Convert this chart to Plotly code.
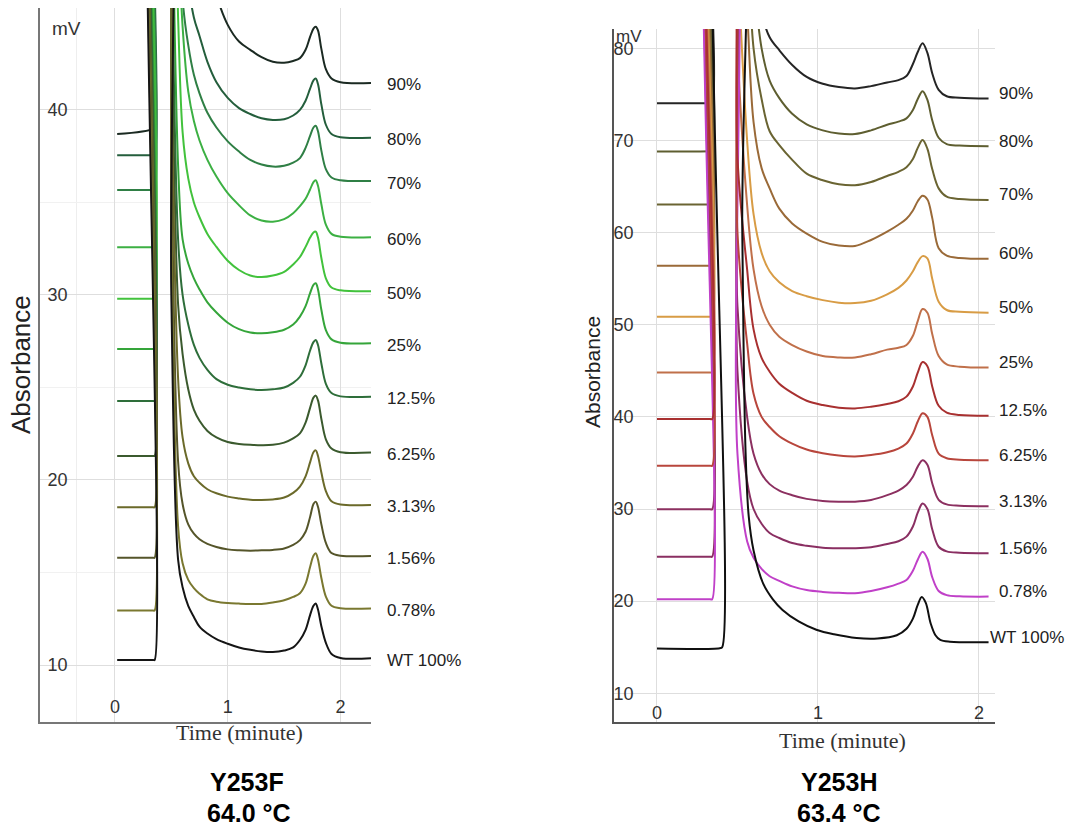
import plotly.graph_objects as go

W, H = 1074, 826

# ---------------- Y253F (left panel) ----------------
left_labels = ["90%", "80%", "70%", "60%", "50%", "25%", "12.5%",
               "6.25%", "3.13%", "1.56%", "0.78%", "WT 100%"]
left_colors = ["#1b2a22", "#245e3c", "#2f7f45", "#3cb043", "#42c23c", "#35a53a",
               "#2e6e3a", "#3b5a2e", "#6b6a2a", "#55552a", "#7a7830", "#151515"]

time_f = [0.02, 0.34, 0.352, 0.362, 0.44, 0.50, 0.56, 0.60, 0.65, 0.70, 0.75,
          0.82, 0.90, 1.00, 1.10, 1.20, 1.30, 1.40, 1.50, 1.58, 1.64, 1.69,
          1.73, 1.76, 1.78, 1.80, 1.83, 1.87, 1.92, 2.00, 2.27]

f_90 = [38.7, 39.0, 39.2, 80, 80, 70, 65, 60, 56, 53, 50.5, 48.2, 46.2, 44.6, 43.7,
        43.25, 42.85, 42.6, 42.55, 42.65, 42.8, 43.25, 43.95, 44.4, 44.5, 44.3,
        43.3, 42.2, 41.7, 41.5, 41.46]
f_80 = [37.55, 37.55, 37.55, 80, 80, 70, 62, 54, 47, 45.0, 44.0, 42.6, 41.5, 40.65,
        40.1, 39.78, 39.55, 39.46, 39.5, 39.7, 40.0, 40.5, 41.15, 41.6, 41.7, 41.4,
        40.3, 39.2, 38.7, 38.52, 38.5]
f_70 = [35.68, 35.68, 35.68, 80, 80, 66, 55, 46.0, 43.5, 41.9, 40.9, 39.85, 39.05,
        38.3, 37.75, 37.3, 37.05, 36.94, 36.98, 37.15, 37.4, 37.95, 38.6, 39.05,
        39.15, 38.85, 37.8, 36.8, 36.35, 36.2, 36.16]
f_60 = [32.58, 32.58, 32.58, 80, 80, 62, 50, 44.5, 41.0, 39.4, 38.35, 37.3, 36.4,
        35.5, 34.85, 34.3, 34.02, 33.96, 34.1, 34.42, 34.8, 35.2, 35.7, 36.1, 36.2,
        35.9, 34.9, 33.8, 33.3, 33.15, 33.12]
f_50 = [29.8, 29.8, 29.8, 80, 80, 58, 45, 38.8, 36.3, 35.0, 34.2, 33.3, 32.6, 31.85,
        31.35, 31.05, 30.97, 31.05, 31.25, 31.65, 32.05, 32.6, 33.1, 33.38, 33.42,
        33.1, 32.0, 30.9, 30.4, 30.25, 30.2]
f_25 = [27.08, 27.08, 27.08, 80, 80, 55, 37, 33.0, 31.7, 30.9, 30.3, 29.6, 29.05,
        28.5, 28.15, 27.97, 27.93, 27.98, 28.12, 28.4, 28.83, 29.4, 30.1, 30.55,
        30.63, 30.3, 29.2, 28.1, 27.6, 27.42, 27.39]
f_12 = [24.27, 24.27, 24.27, 80, 80, 50, 33, 30.0, 28.4, 27.3, 26.6, 25.95, 25.45,
        25.15, 25.0, 24.9, 24.86, 24.9, 25.0, 25.25, 25.58, 26.2, 27.0, 27.45,
        27.57, 27.3, 26.3, 25.2, 24.7, 24.52, 24.5]
f_6 = [21.3, 21.3, 21.3, 80, 80, 46, 29.5, 26.8, 24.9, 23.8, 23.2, 22.65, 22.3, 22.05,
       21.95, 21.9, 21.88, 21.9, 22.02, 22.25, 22.52, 23.1, 23.9, 24.45, 24.56,
       24.3, 23.3, 22.2, 21.7, 21.5, 21.48]
f_3 = [18.52, 18.52, 18.52, 80, 80, 42, 25.5, 22.3, 20.9, 20.2, 19.85, 19.5, 19.28,
       19.1, 19.0, 18.93, 18.92, 18.95, 19.05, 19.3, 19.64, 20.2, 20.95, 21.5,
       21.6, 21.3, 20.4, 19.4, 18.85, 18.67, 18.65]
f_1 = [15.8, 15.8, 15.8, 80, 80, 38, 21, 18.7, 17.6, 17.1, 16.8, 16.55, 16.38,
       16.25, 16.2, 16.18, 16.2, 16.22, 16.3, 16.49, 16.75, 17.2, 18.0, 18.7,
       18.83, 18.55, 17.6, 16.6, 16.05, 15.91, 15.89]
f_07 = [12.94, 12.94, 12.94, 80, 80, 34, 17.5, 15.5, 14.6, 14.15, 13.85, 13.55,
        13.42, 13.35, 13.32, 13.3, 13.3, 13.38, 13.5, 13.68, 13.88, 14.4, 15.3,
        15.9, 16.04, 15.7, 14.7, 13.7, 13.2, 13.07, 13.06]
f_wt = [10.27, 10.27, 10.27, 80, 80, 30, 15.7, 14.2, 13.2, 12.6, 12.07, 11.7, 11.4,
        11.15, 10.95, 10.82, 10.73, 10.7, 10.78, 10.95, 11.35, 11.9, 12.7, 13.2,
        13.33, 13.0, 12.1, 11.2, 10.6, 10.38, 10.36]

left_series = [f_90, f_80, f_70, f_60, f_50, f_25, f_12, f_6, f_3, f_1, f_07, f_wt]

# ---------------- Y253H (right panel) ----------------
right_labels = ["90%", "80%", "70%", "60%", "50%", "25%", "12.5%",
                "6.25%", "3.13%", "1.56%", "0.78%", "WT 100%"]
right_colors = ["#252525", "#5e5e30", "#6a6432", "#9a6a38", "#d89c45", "#c0704a",
                "#a83030", "#b8463c", "#8c3060", "#8a2f62", "#c040c8", "#101010"]

time_h = [0.0, 0.33, 0.343, 0.353, 0.43, 0.50, 0.56, 0.60, 0.65, 0.70, 0.76, 0.84,
          0.93, 1.03, 1.13, 1.23, 1.33, 1.43, 1.50, 1.55, 1.59, 1.62, 1.65, 1.68,
          1.71, 1.75, 1.80, 1.88, 2.06]
time_h_wt = [0.0, 0.39, 0.405, 0.415, 0.50, 0.53, 0.55, 0.57, 0.60, 0.66, 0.72,
             0.78, 0.88, 0.99, 1.10, 1.24, 1.37, 1.49, 1.55, 1.59, 1.62, 1.645,
             1.67, 1.70, 1.73, 1.76, 1.82, 2.06]

h_90 = [74.05, 74.07, 74.1, 120, 120, 115, 110, 95, 84, 81.2, 79.8, 78.2, 76.9,
        76.15, 75.8, 75.65, 75.9, 76.3, 76.55, 77.0, 78.3, 79.6, 80.55, 79.5, 77.3,
        75.5, 74.8, 74.65, 74.55]
h_80 = [68.8, 68.83, 68.85, 120, 120, 110, 100, 88, 80, 76.5, 74.6, 72.9, 71.75,
        71.1, 70.75, 70.7, 71.1, 71.7, 72.05, 72.4, 73.3, 74.5, 75.35, 74.4, 72.2,
        70.3, 69.6, 69.45, 69.37]
h_70 = [63.05, 63.05, 63.05, 120, 120, 105, 92, 80, 74.5, 71.0, 69.5, 67.9, 66.4,
        65.68, 65.25, 65.15, 65.5, 66.15, 66.6, 67.1, 68.0, 69.2, 70.05, 69.1, 66.9,
        64.8, 63.9, 63.65, 63.55]
h_60 = [56.39, 56.39, 56.39, 120, 120, 100, 84, 72, 67, 64.8, 62.6, 61.0, 59.9,
        59.0, 58.6, 58.55, 59.2, 60.1, 60.85, 61.5, 62.4, 63.4, 64.0, 63.6, 61.6,
        58.3, 57.5, 57.25, 57.15]
h_50 = [50.86, 50.86, 50.86, 120, 120, 90, 70, 62, 57.8, 55.8, 54.6, 53.65, 53.1,
        52.67, 52.4, 52.35, 52.6, 53.3, 54.0, 54.8, 55.8, 56.8, 57.45, 57.2, 55.0,
        52.5, 51.6, 51.4, 51.3]
h_25 = [44.82, 44.82, 44.82, 120, 120, 80, 63, 56, 52.0, 50.0, 48.7, 47.8, 47.1,
        46.6, 46.45, 46.45, 46.8, 47.3, 47.5, 47.8, 48.8, 50.4, 51.7, 51.3, 49.0,
        46.6, 45.7, 45.45, 45.35]
h_12 = [39.76, 39.76, 39.76, 120, 120, 68, 56, 49.5, 46.4, 44.9, 43.6, 42.6, 41.75,
        41.28, 41.0, 40.92, 41.1, 41.4, 41.7, 42.2, 43.3, 44.8, 45.95, 45.5, 43.3,
        41.2, 40.45, 40.2, 40.12]
h_6 = [34.7, 34.7, 34.7, 120, 120, 60, 48, 42.5, 40.0, 38.9, 37.9, 37.1, 36.45,
       36.04, 35.8, 35.7, 35.85, 36.15, 36.55, 37.1, 38.2, 39.5, 40.4, 40.0, 38.0,
       36.0, 35.5, 35.35, 35.3]
h_3 = [29.97, 29.97, 29.97, 120, 120, 52, 40, 36.0, 33.8, 32.7, 32.0, 31.5, 31.1,
       30.88, 30.8, 30.8, 30.98, 31.5, 32.0, 32.6, 33.5, 34.6, 35.3, 34.8, 32.8,
       31.0, 30.5, 30.35, 30.3]
h_1 = [24.83, 24.83, 24.83, 120, 120, 45, 33, 30.0, 28.4, 27.4, 26.85, 26.3, 26.0,
       25.8, 25.74, 25.74, 25.85, 26.2, 26.5, 27.0, 28.1, 29.6, 30.6, 30.0, 27.8,
       25.9, 25.4, 25.25, 25.2]
h_07 = [20.2, 20.2, 20.2, 120, 120, 36, 26.5, 24.7, 23.5, 22.7, 22.2, 21.6, 21.2,
        21.0, 20.9, 20.86, 21.1, 21.5, 21.9, 22.3, 23.3, 24.5, 25.35, 24.6, 22.6,
        21.1, 20.65, 20.52, 20.49]
h_wt = [14.85, 14.89, 15.0, 120, 120, 60, 36.4, 29.2, 25.5, 21.9, 20.2, 19.05, 17.8,
        16.9, 16.4, 16.0, 15.95, 16.3, 17.0, 18.1, 19.6, 20.45, 19.8, 17.6, 16.3,
        15.8, 15.6, 15.54]

right_series = [h_90, h_80, h_70, h_60, h_50, h_25, h_12, h_6, h_3, h_1, h_07, h_wt]
right_times = [time_h] * 11 + [time_h_wt]

# draw order for the right panel (red traces on top of the injection spike)
right_order = [0, 1, 2, 3, 4, 5, 8, 9, 10, 7, 6, 11]

fig = go.Figure()

for vals, col in zip(left_series, left_colors):
    fig.add_trace(go.Scatter(x=time_f, y=vals, mode="lines", xaxis="x", yaxis="y",
                             line=dict(color=col, width=2, shape="spline", smoothing=1),
                             hoverinfo="skip", showlegend=False))

for i in right_order:
    fig.add_trace(go.Scatter(x=right_times[i], y=right_series[i], mode="lines",
                             xaxis="x2", yaxis="y2",
                             line=dict(color=right_colors[i], width=2, shape="spline",
                                       smoothing=1),
                             hoverinfo="skip", showlegend=False))


def px(x):
    return x / W


def py(y):
    return 1 - y / H


tickfont = dict(family="Arial, Liberation Sans, sans-serif", size=18, color="#333333")
grid = "#dedede"

fig.update_layout(
    width=W, height=H, margin=dict(l=0, r=0, t=0, b=0),
    paper_bgcolor="white", plot_bgcolor="white", showlegend=False,
    xaxis=dict(domain=[px(40), px(371)], range=[-0.664, 2.27], anchor="y",
               tickvals=[0, 1, 2], ticktext=["0", "1", "2"], ticks="",
               ticklabelposition="inside", ticklabelstandoff=6, tickfont=tickfont,
               showgrid=True, gridcolor=grid, gridwidth=1, zeroline=False,
               showline=True, linecolor="#777777", linewidth=2),
    yaxis=dict(domain=[py(722), py(8)], range=[6.92, 45.51], anchor="x",
               tickvals=[10, 20, 30, 40], ticks="", ticklabelposition="inside",
               ticklabelstandoff=8, tickfont=tickfont,
               showgrid=True, gridcolor=grid, gridwidth=1, zeroline=False,
               minor=dict(tickvals=[15, 25, 35], showgrid=True, gridcolor="#f1f1f1"),
               showline=True, linecolor="#777777", linewidth=2),
    xaxis2=dict(domain=[px(614), px(995)], range=[-0.267, 2.1], anchor="y2",
                tickvals=[0, 1, 2], ticktext=["0", "1", "2"], ticks="",
                ticklabelposition="inside", ticklabelstandoff=0, tickfont=tickfont,
                showgrid=True, gridcolor=grid, gridwidth=1, zeroline=False,
                showline=True, linecolor="#555555", linewidth=2),
    yaxis2=dict(domain=[py(722), py(29)], range=[6.88, 82.1], anchor="x2",
                tickvals=[10, 20, 30, 40, 50, 60, 70, 80], ticks="",
                ticklabelposition="inside", ticklabelstandoff=0, tickfont=tickfont,
                showgrid=True, gridcolor=grid, gridwidth=1, zeroline=False,
                showline=True, linecolor="#555555", linewidth=2),
)

# faint extra vertical grid line in the left panel
fig.add_shape(type="line", xref="x", yref="y domain", x0=-0.34, x1=-0.34, y0=0, y1=1,
              line=dict(color="#eeeeee", width=1), layer="below")

ann = []
lab_font = dict(family="Arial, Liberation Sans, sans-serif", size=17, color="#222222")
for lab, vals in zip(left_labels, left_series):
    ann.append(dict(x=px(385), xref="paper", y=vals[-1], yref="y", text=lab,
                    showarrow=False, xanchor="left", yanchor="middle", yshift=-2,
                    font=lab_font))
for lab, vals in zip(right_labels, right_series):
    xpos = px(988) if lab.startswith("WT") else px(997)
    ann.append(dict(x=xpos, xref="paper", y=vals[-1], yref="y2", text=lab,
                    showarrow=False, xanchor="left", yanchor="middle", yshift=5,
                    font=lab_font))

# unit labels
ann.append(dict(x=px(50), y=py(28), xref="paper", yref="paper", text="mV",
                showarrow=False, xanchor="left", yanchor="middle",
                font=dict(family="Arial, Liberation Sans, sans-serif", size=19,
                          color="#333333")))
ann.append(dict(x=px(614), y=py(36), xref="paper", yref="paper", text="mV",
                showarrow=False, xanchor="left", yanchor="middle",
                font=dict(family="Arial, Liberation Sans, sans-serif", size=17,
                          color="#333333")))

# axis titles
ann.append(dict(x=px(21), y=py(365), xref="paper", yref="paper", text="Absorbance",
                textangle=-90, showarrow=False, xanchor="center", yanchor="middle",
                font=dict(family="Arial, Liberation Sans, sans-serif", size=26,
                          color="#222222")))
ann.append(dict(x=px(592), y=py(372), xref="paper", yref="paper", text="Absorbance",
                textangle=-90, showarrow=False, xanchor="center", yanchor="middle",
                font=dict(family="Arial, Liberation Sans, sans-serif", size=21,
                          color="#222222")))
serif = dict(family="Times New Roman, Liberation Serif, serif", size=22, color="#333333")
ann.append(dict(x=px(239), y=py(732), xref="paper", yref="paper", text="Time (minute)",
                showarrow=False, xanchor="center", yanchor="middle", font=serif))
ann.append(dict(x=px(842), y=py(740), xref="paper", yref="paper", text="Time (minute)",
                showarrow=False, xanchor="center", yanchor="middle", font=serif))

# panel captions
bold = dict(family="Arial, Liberation Sans, sans-serif", size=25, color="#000000")
for text, x, y in [("<b>Y253F</b>", 247, 782), ("<b>64.0 °C</b>", 249, 813),
                   ("<b>Y253H</b>", 839, 782), ("<b>63.4 °C</b>", 839, 813)]:
    ann.append(dict(x=px(x), y=py(y), xref="paper", yref="paper", text=text,
                    showarrow=False, xanchor="center", yanchor="middle", font=bold))

fig.update_layout(annotations=ann)

fig.write_html(
    "out.html",
    config={"displayModeBar": False},
    post_script="document.body.style.margin='0px';document.body.style.padding='0px';"
                "document.body.style.overflow='hidden';",
)
